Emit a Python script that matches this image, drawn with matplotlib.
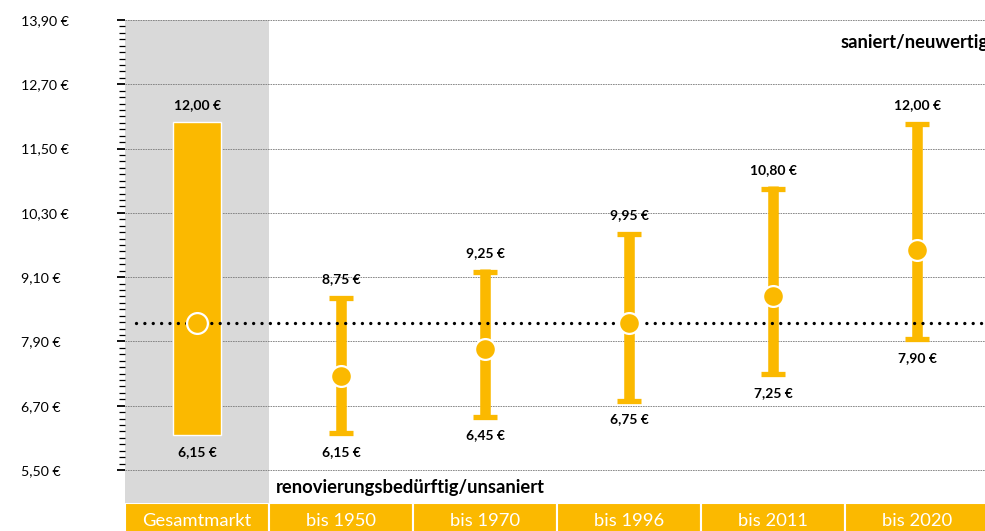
import numpy as np
import matplotlib.pyplot as plt

plt.rcParams['font.family'] = ['Lato', 'DejaVu Sans']

# data
categories = ["Gesamtmarkt", "bis 1950", "bis 1970", "bis 1996", "bis 2011", "bis 2020"]
low = [6.15, 6.15, 6.45, 6.75, 7.25, 7.90]
high = [12.00, 8.75, 9.25, 9.95, 10.80, 12.00]
median = [8.25, 7.25, 7.75, 8.25, 8.75, 9.60]
market_median = 8.25
y_ticks = [5.50, 6.70, 7.90, 9.10, 10.30, 11.50, 12.70, 13.90]

orange = '#FBB900'
W, H = 985, 531


def euro(v):
    return f"{v:.2f}".replace('.', ',') + " €"


fig = plt.figure(figsize=(W / 100, H / 100), dpi=100)
ax = fig.add_axes([125 / W, 28 / H, 864 / W, 483 / H])
ax.set_xlim(0, 6)
ax.set_ylim(5.5 - 33 / 53.57, 13.9)

x = np.arange(len(categories)) + 0.5

# grey band behind "Gesamtmarkt"
ax.axvspan(0, 1, color='#d9d9d9', lw=0, zorder=0)

# Gesamtmarkt as a bar
ax.bar(x[0], high[0] - low[0], bottom=low[0], width=0.335, color=orange,
       edgecolor='white', lw=1, zorder=2)

# the other categories as T-shaped range bars
ax.vlines(x[1:], low[1:], high[1:], color=orange, lw=7.6, zorder=2)
cap = 0.083
ax.hlines(np.array(high[1:]) - 0.047, x[1:] - cap, x[1:] + cap, color=orange, lw=3.8, zorder=2)
ax.hlines(np.array(low[1:]) + 0.047, x[1:] - cap, x[1:] + cap, color=orange, lw=3.8, zorder=2)

# market median, dotted
ax.axhline(market_median, xmin=0.013, color='black', lw=2.4,
           linestyle=(0, (0.01, 2.5)), dash_capstyle='round', zorder=3)

ax.plot(x, median, 'o', ms=15, mfc=orange, mec='white', mew=1.6, zorder=4)

for xi, lo, hi in zip(x, low, high):
    ax.annotate(euro(hi), (xi, hi), xytext=(0, 7.5), textcoords='offset points',
                ha='center', va='bottom', fontsize=10, fontweight='bold')
    ax.annotate(euro(lo), (xi, lo), xytext=(0, -7.5), textcoords='offset points',
                ha='center', va='top', fontsize=10, fontweight='bold')

ax.text(1.05, 5.165, "renovierungsbedürftig/unsaniert", ha='left', va='center',
        fontsize=13.2, fontweight='bold')
ax.text(4.972, 13.489, "saniert/neuwertig", ha='left', va='center',
        fontsize=13.2, fontweight='bold')

# y axis
ax.set_yticks(y_ticks)
ax.set_yticklabels([euro(v) for v in y_ticks], ha='left', fontsize=10.2)
ax.set_yticks(np.linspace(5.5, 13.9, 71), minor=True)
ax.tick_params(axis='y', which='major', direction='out', length=5.5, width=1.3, pad=69.5)
ax.tick_params(axis='y', which='minor', direction='out', length=4.3, width=0.9)
ax.set_xticks([])
ax.set_axisbelow(True)
ax.grid(axis='y', color='#7a7a7a', lw=0.6, ls=(0, (2, 1)))
for s in ax.spines.values():
    s.set_visible(False)

# category boxes at the bottom
bx = fig.add_axes([125 / W, -10 / H, 864 / W, 38 / H])
bx.set_xlim(0, 6)
bx.set_ylim(0, 1)
bx.bar(x, 1, width=1, color=orange, edgecolor='white', lw=1.5)
for xi, c in zip(x, categories):
    bx.text(xi, 0.53, c, ha='center', va='center', color='white', fontsize=13.2)
bx.axis('off')

fig.savefig('out.png', dpi=100)
